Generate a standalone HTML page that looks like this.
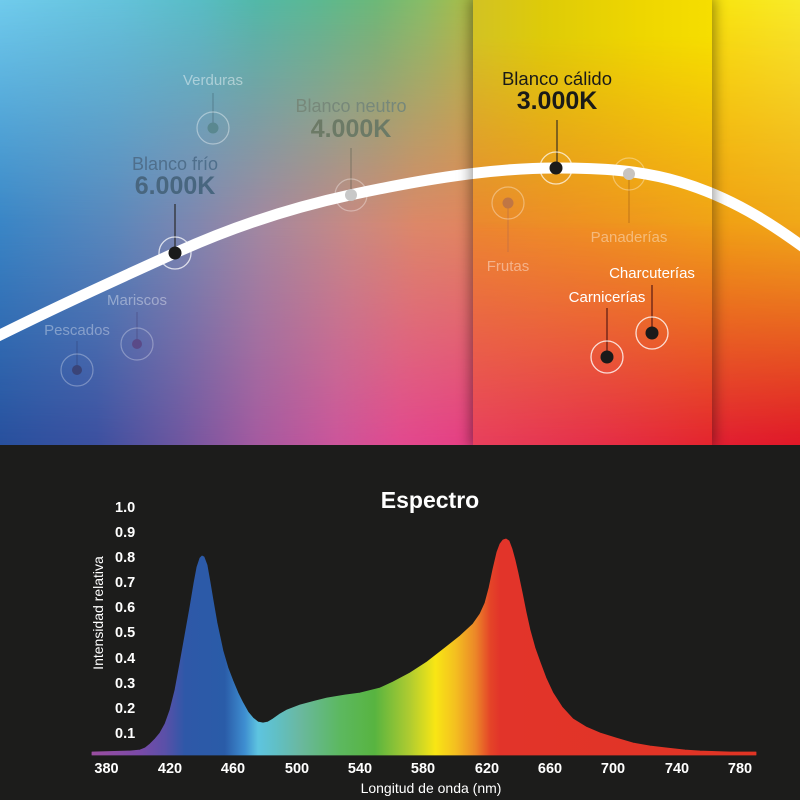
<!DOCTYPE html>
<html><head><meta charset="utf-8">
<style>
html,body{margin:0;padding:0;}
body{width:800px;height:800px;overflow:hidden;background:#1c1c1b;position:relative;font-family:"Liberation Sans",Arial,sans-serif;}
.abs{position:absolute;left:0;top:0;}
.layer{position:absolute;left:0;top:0;width:100%;height:100%;}
#top{position:absolute;left:0;top:0;width:800px;height:445px;overflow:hidden;}
#band{position:absolute;left:473px;top:0;width:239px;height:445px;box-shadow:0 0 12px 3px rgba(0,0,0,0.38);}
.mmid{-webkit-mask-image:linear-gradient(180deg,#000 0%,#000 50%,transparent 100%);mask-image:linear-gradient(180deg,#000 0%,#000 50%,transparent 100%);}
.mtop{-webkit-mask-image:linear-gradient(180deg,#000 0%,transparent 50%);mask-image:linear-gradient(180deg,#000 0%,transparent 50%);}
.mtopb{-webkit-mask-image:linear-gradient(180deg,#000 0%,#000 8%,transparent 52%);mask-image:linear-gradient(180deg,#000 0%,#000 8%,transparent 52%);}
</style></head>
<body>
<div id="top">
  <div class="layer" style="background:linear-gradient(90deg,#28509e 0%,#3c50a0 12%,#6c56a0 22%,#a45aa0 32%,#cc559b 42%,#e2498f 50%,#e63f84 58%,#e8345c 70%,#e22034 88%,#e01828 100%);"></div>
  <div class="layer mmid" style="background:linear-gradient(90deg,#3a86c6 0%,#5a88bc 14%,#7e87b0 24%,#a4889f 33%,#c88a82 44%,#dc8868 52%,#e08660 58%,#ef9028 70%,#f0a014 90%,#f0a818 100%);"></div>
  <div class="layer mtop" style="background:linear-gradient(90deg,#70cbec 0%,#64c2da 15%,#58bcc4 25%,#52b8a8 32%,#5cb890 40%,#6cb878 47%,#88bc66 53%,#a6bc4a 58%,#d2c81c 66%,#ecd800 80%,#f8e410 90%,#f8ea2a 100%);"></div>
  <svg class="abs" width="800" height="445" viewBox="0 0 800 445">
    <path d="M-10,340 C60,305 120,278 175,253 C230,228 290,208 350,195 C420,180 490,168 556,168 C600,168 640,170 680,182 C730,197 770,222 810,252" fill="none" stroke="#ffffff" stroke-width="11"/>
  </svg>
  <div id="band">
    <div class="layer" style="background:linear-gradient(90deg,#e8405e 0%,#e6304a 50%,#e4242e 100%);"></div>
    <div class="layer mmid" style="background:linear-gradient(90deg,#ec8630 0%,#ef9022 50%,#f0a018 100%);"></div>
    <div class="layer mtopb" style="background:linear-gradient(90deg,#d2c224 0%,#decb08 30%,#eed600 70%,#f6de00 100%);"></div>
  </div>
  <svg class="abs" width="800" height="445" viewBox="0 0 800 445" font-family="Liberation Sans, Arial, sans-serif">
    <defs><clipPath id="bc"><rect x="473" y="0" width="239" height="445"/></clipPath></defs>
    <path clip-path="url(#bc)" d="M-10,340 C60,305 120,278 175,253 C230,228 290,208 350,195 C420,180 490,168 556,168 C600,168 640,170 680,182 C730,197 770,222 810,252" fill="none" stroke="#ffffff" stroke-width="11"/>

    <text x="213" y="85" text-anchor="middle" font-size="15" fill="rgba(255,255,255,0.45)">Verduras</text>
    <line x1="213" y1="93" x2="213" y2="124" stroke="rgba(40,60,70,0.35)" stroke-width="1"/>
    <circle cx="213" cy="128" r="16" fill="none" stroke="rgba(255,255,255,0.4)" stroke-width="1.2"/>
    <circle cx="213" cy="128" r="5.5" fill="#5a8890"/>

    <text x="351" y="112" text-anchor="middle" font-size="18" fill="#77887a">Blanco neutro</text>
    <text x="351" y="137" text-anchor="middle" font-size="25" font-weight="bold" fill="#6c7a66">4.000K</text>
    <line x1="351" y1="148" x2="351" y2="190" stroke="rgba(60,70,60,0.45)" stroke-width="1"/>
    <circle cx="351" cy="195" r="16" fill="none" stroke="rgba(255,255,255,0.35)" stroke-width="1.2"/>
    <circle cx="351" cy="195" r="6" fill="#c8c8c8"/>

    <text x="175" y="170" text-anchor="middle" font-size="18" fill="#4f6f8c">Blanco frío</text>
    <text x="175" y="194" text-anchor="middle" font-size="25" font-weight="bold" fill="#48667f">6.000K</text>
    <line x1="175" y1="204" x2="175" y2="250" stroke="#2a2a2a" stroke-width="1.2"/>
    <circle cx="175" cy="253" r="16" fill="none" stroke="rgba(255,255,255,0.75)" stroke-width="1.3"/>
    <circle cx="175" cy="253" r="6.5" fill="#1a1a1a"/>

    <text x="137" y="305" text-anchor="middle" font-size="15" fill="rgba(255,255,255,0.38)">Mariscos</text>
    <line x1="137" y1="312" x2="137" y2="342" stroke="rgba(60,50,100,0.4)" stroke-width="1"/>
    <circle cx="137" cy="344" r="16" fill="none" stroke="rgba(255,255,255,0.3)" stroke-width="1.2"/>
    <circle cx="137" cy="344" r="5" fill="#5a4a88"/>

    <text x="77" y="335" text-anchor="middle" font-size="15" fill="rgba(255,255,255,0.35)">Pescados</text>
    <line x1="77" y1="341" x2="77" y2="368" stroke="rgba(40,50,100,0.4)" stroke-width="1"/>
    <circle cx="77" cy="370" r="16" fill="none" stroke="rgba(255,255,255,0.3)" stroke-width="1.2"/>
    <circle cx="77" cy="370" r="5" fill="#3a4478"/>

    <text x="557" y="85" text-anchor="middle" font-size="18.5" fill="#1a1a18">Blanco cálido</text>
    <text x="557" y="109" text-anchor="middle" font-size="25" font-weight="bold" fill="#1a1a18">3.000K</text>
    <line x1="557" y1="120" x2="557" y2="165" stroke="#3a3020" stroke-width="1.2"/>
    <circle cx="556" cy="168" r="16" fill="none" stroke="rgba(255,255,255,0.7)" stroke-width="1.3"/>
    <circle cx="556" cy="168" r="6.5" fill="#1a1a1a"/>

    <line x1="629" y1="174" x2="629" y2="223" stroke="rgba(120,60,20,0.4)" stroke-width="1"/>
    <circle cx="629" cy="174" r="16" fill="none" stroke="rgba(255,255,255,0.35)" stroke-width="1.2"/>
    <circle cx="629" cy="174" r="6" fill="#c8c4c0"/>
    <text x="629" y="242" text-anchor="middle" font-size="15" fill="rgba(255,255,255,0.4)">Panaderías</text>

    <line x1="508" y1="203" x2="508" y2="252" stroke="rgba(190,110,70,0.7)" stroke-width="1"/>
    <circle cx="508" cy="203" r="16" fill="none" stroke="rgba(255,255,255,0.35)" stroke-width="1.2"/>
    <circle cx="508" cy="203" r="5.5" fill="#c07644"/>
    <text x="508" y="271" text-anchor="middle" font-size="15" fill="rgba(255,255,255,0.42)">Frutas</text>

    <text x="652" y="278" text-anchor="middle" font-size="15" fill="#ffffff">Charcuterías</text>
    <line x1="652" y1="285" x2="652" y2="330" stroke="#5a1a14" stroke-width="1.2"/>
    <circle cx="652" cy="333" r="16" fill="none" stroke="rgba(255,255,255,0.8)" stroke-width="1.3"/>
    <circle cx="652" cy="333" r="6.5" fill="#1a1a1a"/>

    <text x="607" y="302" text-anchor="middle" font-size="15" fill="#ffffff">Carnicerías</text>
    <line x1="607" y1="308" x2="607" y2="354" stroke="#5a1a14" stroke-width="1.2"/>
    <circle cx="607" cy="357" r="16" fill="none" stroke="rgba(255,255,255,0.8)" stroke-width="1.3"/>
    <circle cx="607" cy="357" r="6.5" fill="#1a1a1a"/>
  </svg>
</div>

<svg class="abs" width="800" height="800" viewBox="0 0 800 800" font-family="Liberation Sans, Arial, sans-serif" style="top:0;left:0;">
  <defs>
    <linearGradient id="spec" gradientUnits="userSpaceOnUse" x1="92" y1="0" x2="756" y2="0">
      <stop offset="0" stop-color="#9a4ea0"/>
      <stop offset="0.072" stop-color="#7a4aa8"/>
      <stop offset="0.11" stop-color="#5a50a8"/>
      <stop offset="0.14" stop-color="#2e58a8"/>
      <stop offset="0.2" stop-color="#2a5ca8"/>
      <stop offset="0.23" stop-color="#3e8ed0"/>
      <stop offset="0.25" stop-color="#5ec4e0"/>
      <stop offset="0.275" stop-color="#60c0c8"/>
      <stop offset="0.313" stop-color="#6ab8a0"/>
      <stop offset="0.373" stop-color="#5cb860"/>
      <stop offset="0.426" stop-color="#58b440"/>
      <stop offset="0.479" stop-color="#b0cc30"/>
      <stop offset="0.517" stop-color="#f8e614"/>
      <stop offset="0.547" stop-color="#f4c020"/>
      <stop offset="0.577" stop-color="#ec8828"/>
      <stop offset="0.6" stop-color="#e44428"/>
      <stop offset="0.615" stop-color="#e2342a"/>
      <stop offset="1" stop-color="#e03424"/>
    </linearGradient>
  </defs>
  <text x="430" y="508" text-anchor="middle" font-size="23" font-weight="bold" fill="#ffffff">Espectro</text>

  <g font-size="14.5" font-weight="bold" fill="#ffffff">
    <text x="115" y="512">1.0</text>
    <text x="115" y="537">0.9</text>
    <text x="115" y="562">0.8</text>
    <text x="115" y="587">0.7</text>
    <text x="115" y="612">0.6</text>
    <text x="115" y="637">0.5</text>
    <text x="115" y="663">0.4</text>
    <text x="115" y="688">0.3</text>
    <text x="115" y="713">0.2</text>
    <text x="115" y="738">0.1</text>
  </g>
  <text transform="translate(103,613) rotate(-90)" text-anchor="middle" font-size="14" fill="#ffffff">Intensidad relativa</text>

  <path fill="url(#spec)" stroke="url(#spec)" stroke-width="0.8" stroke-linejoin="round" d="M92,755 L92,752 L110,751.5 L130,751 L140,750 L145,748 L150,744 L155,739 L160,733 L165,724 L170,710 L175,690 L180,663 L185,635 L190,607 L194,583 L197,567 L200,558 L202,556 L204,557 L207,565 L210,582 L213,600 L217,623 L223,651 L228,668 L233,681 L238,693 L243,703 L248,712 L253,718 L258,722 L263,723 L268,722 L273,719 L280,714 L287,710 L300,705 L315,701 L327,698 L345,695 L360,693 L380,688 L393,682 L410,673 L427,662 L445,648 L460,636 L473,624 L480,614 L485,603 L489,588 L493,569 L497,552 L500,544 L503,540 L506,539 L509,541 L512,549 L515,560 L518,573 L522,592 L526,612 L530,630 L535,648 L540,662 L546,678 L553,693 L562,707 L573,719 L586,727 L600,733 L616,738 L633,743 L650,746 L667,748 L685,750 L700,751 L730,752 L756,752 L756,755 Z"/>

  <g font-size="14.5" font-weight="bold" fill="#ffffff" text-anchor="middle">
    <text x="106.5" y="773">380</text>
    <text x="170" y="773">420</text>
    <text x="233" y="773">460</text>
    <text x="297" y="773">500</text>
    <text x="360" y="773">540</text>
    <text x="423" y="773">580</text>
    <text x="487" y="773">620</text>
    <text x="550" y="773">660</text>
    <text x="613" y="773">700</text>
    <text x="677" y="773">740</text>
    <text x="740" y="773">780</text>
  </g>
  <text x="431" y="793" text-anchor="middle" font-size="14" fill="#ffffff">Longitud de onda (nm)</text>
</svg>
</body></html>
